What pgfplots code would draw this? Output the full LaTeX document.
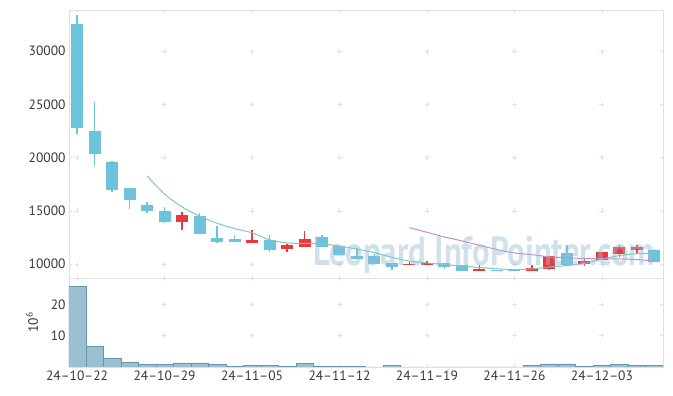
\documentclass[border=0pt]{standalone}
\usepackage{pgfplots}
\pgfplotsset{compat=1.18}
\usepackage{pgfplotstable}
\usepackage{graphicx}
\usepackage{fontspec}
\setmainfont{PT Sans}
\definecolor{cblue}{RGB}{110,195,220}
\definecolor{cred}{RGB}{234,56,60}
\definecolor{maT}{RGB}{128,200,190}
\definecolor{maP}{RGB}{200,140,195}
\definecolor{volfill}{RGB}{155,192,207}
\definecolor{voledge}{RGB}{105,150,175}
\definecolor{framec}{RGB}{224,224,224}
\definecolor{wm}{RGB}{150,188,210}
\definecolor{lab}{RGB}{55,55,55}

\pgfplotstableread{
i o h l c
0 32512 33356 22260 22786
1 22475 25262 19220 20346
2 19568 19724 16816 16970
3 17129 17129 15225 16034
4 15534 15816 14850 15000
5 15000 15410 13874 13968
7 14570 14850 12860 12860
8 12450 13564 12017 12092
9 12345 12700 12092 12092
11 12251 12700 11191 11332
14 12533 12720 11623 11623
15 11688 11688 10910 10910
16 10750 11566 10535 10535
17 10750 11004 10066 10066
18 10160 10160 9450 9747
21 10122 10122 9531 9747
22 9972 9972 9409 9409
24 9503 9503 9343 9343
25 9597 9597 9343 9343
28 11097 11848 9906 9906
33 11313 11473 10216 10216
}\down

\pgfplotstableread{
i o h l c
6 13968 14878 13189 14596
10 11998 13170 11998 12251
12 11435 11904 11154 11782
13 11595 13160 11595 12345
19 9906 10216 9906 10066
20 9906 10281 9906 10122
23 9409 9972 9409 9597
26 9372 9972 9372 9653
27 9597 10779 9503 10779
29 10000 10469 9840 10281
30 10375 11154 10375 11154
31 11004 11782 10685 11595
32 11313 11848 11004 11623
}\up

\pgfplotstableread{
i m
4 18300
5 16600
6 15380
7 14520
8 13850
9 13350
10 12950
11 12300
12 12000
13 11960
14 11920
15 11700
16 11420
17 11080
18 10650
19 10300
20 10120
21 9970
22 9820
23 9700
24 9580
25 9500
26 9560
27 9740
28 9880
29 10080
30 10480
31 10820
32 10990
33 11060
}\mafive

\pgfplotstableread{
i m
19 13440
20 13000
21 12560
22 12190
23 11780
24 11380
25 11060
26 10900
27 10690
28 10610
29 10540
30 10520
31 10500
32 10440
33 10310
}\matwenty

\pgfplotstableread{
i v
0 25.8
1 6.7
2 2.9
3 1.6
4 0.85
5 0.85
6 1.3
7 1.3
8 0.95
9 0.2
10 0.6
11 0.6
12 0.3
13 1.25
14 0.35
15 0.3
16 0.3
17 0
18 0.4
19 0
20 0
21 0
22 0
23 0
24 0
25 0
26 0.4
27 1.0
28 1.0
29 0.3
30 0.6
31 0.9
32 0.5
33 0.5
}\vol

\begin{document}
\begin{tikzpicture}
\useasboundingbox (-69pt,-29pt) rectangle (604pt,367pt);
\pgfplotsset{
  common/.style={scale only axis, width=594pt, xmin=-0.46, xmax=33.49,
    axis line style={framec}, tick style={framec, line width=0.6pt},
    major tick length=3pt, tick align=inside,
    ticklabel style={font=\fontsize{13.5}{15}\selectfont, text=lab},
    /pgf/number format/assume math mode=true,
    /pgf/number format/1000 sep={},
    scaled y ticks=false,
    xtick={0,5,...,30}},
  candle/.style n args={2}{draw=none, mark=none, forget plot,
    error bars/.cd, y dir=both, y explicit, error mark=none,
    error bar style={line width=#2, draw=#1, solid}},
  cross/.style={draw=none, mark=none, forget plot,
    error bars/.cd, x dir=both, y dir=both, x fixed=0.14, y fixed=#1, error mark=none,
    error bar style={line width=0.7pt, draw=framec, solid}}
}
\begin{axis}[common, at={(0,0)}, height=89pt, ymin=0, ymax=28.4, ytick={10,20},
  xticklabels={24–10–22,24–10–29,24–11–05,24–11–12,24–11–19,24–11–26,24–12–03},
  ylabel={10\textsuperscript{6}},
  ylabel style={at={(axis description cs:0,0.5)}, anchor=center, yshift=37pt,
    font=\fontsize{13.5}{15}\selectfont, text=lab}]
\pgfplotsinvokeforeach{0,5,10,15,20,25,30}{
  \addplot[cross=0.8] coordinates {(#1,10) (#1,20)};
}
\addplot[ybar, bar width=1, fill=volfill, draw=voledge, line width=0.5pt] table[x=i, y=v] {\vol};
\end{axis}

\begin{axis}[common, at={(0,89pt)}, height=268pt, ymin=8710, ymax=33870,
  ytick={10000,15000,20000,25000,30000}, xticklabels={}]
\pgfplotsinvokeforeach{0,5,10,15,20,25,30}{
  \addplot[cross=235] coordinates {(#1,10000) (#1,15000) (#1,20000) (#1,25000) (#1,30000)};
}
% wicks
\addplot[candle={cblue}{1.3pt}]
  table[x=i, y expr={(\thisrow{h}+\thisrow{l})/2}, y error expr={(\thisrow{h}-\thisrow{l})/2}] {\down};
\addplot[candle={cred}{1.3pt}]
  table[x=i, y expr={(\thisrow{h}+\thisrow{l})/2}, y error expr={(\thisrow{h}-\thisrow{l})/2}] {\up};
% bodies
\addplot[candle={cblue}{12pt}]
  table[x=i, y expr={(\thisrow{o}+\thisrow{c})/2}, y error expr={abs(\thisrow{o}-\thisrow{c})/2}] {\down};
\addplot[candle={cred}{12pt}]
  table[x=i, y expr={(\thisrow{o}+\thisrow{c})/2}, y error expr={abs(\thisrow{o}-\thisrow{c})/2}] {\up};
% moving averages
\addplot[smooth, maT, line width=1pt, no marks] table[x=i, y=m] {\mafive};
\addplot[smooth, maP, line width=1pt, no marks] table[x=i, y=m] {\matwenty};
\node[anchor=base west, inner sep=0pt, text=wm, opacity=0.45] at (axis cs:13.49,9850)
  {\resizebox{342pt}{29pt}{\bfseries Leopard InfoPointer.com}};
\end{axis}
\end{tikzpicture}
\end{document}
